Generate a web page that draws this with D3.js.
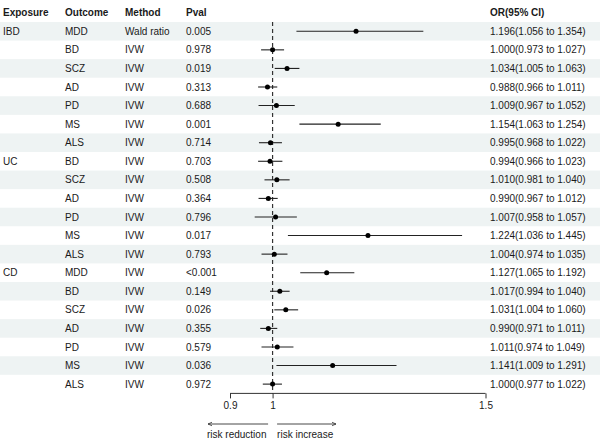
<!DOCTYPE html>
<html>
<head>
<meta charset="utf-8">
<script src="https://cdn.jsdelivr.net/npm/d3@7"></script>
<style>
  body { margin: 0; background: #fff; }
  text { font-family: "Liberation Sans", Arial, Helvetica, sans-serif; font-size: 10px; fill: #1a1a1a; }
</style>
</head>
<body>
<div id="forest"></div>
<script>
// 1. DATA
const exposures = ["IBD","IBD","IBD","IBD","IBD","IBD","IBD",
    "UC","UC","UC","UC","UC","UC",
    "CD","CD","CD","CD","CD","CD","CD"]
const outcomes = ["MDD","BD","SCZ","AD","PD","MS","ALS",
    "BD","SCZ","AD","PD","MS","ALS",
    "MDD","BD","SCZ","AD","PD","MS","ALS"]
const methods = ["Wald ratio","IVW","IVW","IVW","IVW","IVW","IVW",
    "IVW","IVW","IVW","IVW","IVW","IVW",
    "IVW","IVW","IVW","IVW","IVW","IVW","IVW"]
const pvals = ["0.005","0.978","0.019","0.313","0.688","0.001","0.714",
    "0.703","0.508","0.364","0.796","0.017","0.793",
    "<0.001","0.149","0.026","0.355","0.579","0.036","0.972"]
const ors = [1.196,1.000,1.034,0.988,1.009,1.154,0.995,
    0.994,1.010,0.990,1.007,1.224,1.004,
    1.127,1.017,1.031,0.990,1.011,1.141,1.000]
const lowers = [1.056,0.973,1.005,0.966,0.967,1.063,0.968,
    0.966,0.981,0.967,0.958,1.036,0.974,
    1.065,0.994,1.004,0.971,0.974,1.009,0.977]
const uppers = [1.354,1.027,1.063,1.011,1.052,1.254,1.022,
    1.023,1.040,1.012,1.057,1.445,1.035,
    1.192,1.040,1.060,1.011,1.049,1.291,1.022]
const xTicks = [0.9, 1, 1.5]

const dataset = outcomes.map((o, i) => ({
    exposure: exposures[i],
    first: i === 0 || exposures[i] !== exposures[i - 1],
    outcome: o,
    method: methods[i],
    pval: pvals[i],
    or: ors[i],
    lo: lowers[i],
    hi: uppers[i],
}))

// 2. DIMENSIONS
const width = 600
const height = 443
const rowTop = 22
const rowH = 18.57
const cols = { exposure: 3, outcome: 65, method: 125, pval: 186, ci: 490 }

const wrapper = d3.select("#forest")
    .append("svg")
    .attr("width", width)
    .attr("height", height)

// 3. SCALES
const yScale = d3.scaleBand()
    .domain(d3.range(dataset.length))
    .range([rowTop, rowTop + rowH * dataset.length])
const xScale = d3.scaleLinear()
    .domain([0.9, 1.5])
    .range([230, 485.5])

const fmt = d3.format(".3f")

// 4. BANDS (every other row)
wrapper.selectAll(".band")
    .data(dataset.filter((d, i) => i % 2 === 0))
    .join("rect")
    .attr("class", "band")
    .attr("x", 0)
    .attr("width", width)
    .attr("y", (d) => yScale(dataset.indexOf(d)))
    .attr("height", yScale.bandwidth())
    .attr("fill", "#eef3f3")

// 5. HEADER
const headers = [
    { text: "Exposure", x: cols.exposure },
    { text: "Outcome", x: cols.outcome },
    { text: "Method", x: cols.method },
    { text: "Pval", x: cols.pval },
    { text: "OR(95% CI)", x: cols.ci },
]
wrapper.selectAll(".header")
    .data(headers)
    .join("text")
    .attr("class", "header")
    .attr("x", d => d.x)
    .attr("y", 16)
    .style("font-weight", "bold")
    .text(d => d.text)

// 6. TABLE TEXT
const rows = wrapper.selectAll(".row")
    .data(dataset)
    .join("g")
    .attr("class", "row")
    .attr("transform", (d, i) => `translate(0, ${yScale(i) + yScale.bandwidth() / 2 + 3.6})`)

rows.append("text").attr("x", cols.exposure).text(d => d.first ? d.exposure : "")
rows.append("text").attr("x", cols.outcome).text(d => d.outcome)
rows.append("text").attr("x", cols.method).text(d => d.method)
rows.append("text").attr("x", cols.pval).text(d => d.pval)
rows.append("text").attr("x", cols.ci)
    .text(d => `${fmt(d.or)}(${fmt(d.lo)} to ${fmt(d.hi)})`)

// 7. REFERENCE LINE
const axisY = rowTop + rowH * dataset.length
wrapper.append("line")
    .attr("x1", xScale(1)).attr("x2", xScale(1))
    .attr("y1", rowTop).attr("y2", axisY)
    .attr("stroke", "#333")
    .attr("stroke-width", 1.2)
    .attr("stroke-dasharray", "4,3")

// 8. CI + POINTS
const cy = i => yScale(i) + yScale.bandwidth() / 2
wrapper.selectAll(".ci")
    .data(dataset)
    .join("line")
    .attr("class", "ci")
    .attr("x1", d => xScale(d.lo))
    .attr("x2", d => xScale(d.hi))
    .attr("y1", (d, i) => cy(i))
    .attr("y2", (d, i) => cy(i))
    .attr("stroke", "#222")
    .attr("stroke-width", 1.1)

wrapper.selectAll(".pt")
    .data(dataset)
    .join("circle")
    .attr("class", "pt")
    .attr("cx", d => xScale(d.or))
    .attr("cy", (d, i) => cy(i))
    .attr("r", 2.5)
    .attr("fill", "#000")

// 9. AXIS
const xAxis = wrapper.append("g")
    .attr("transform", `translate(0, ${axisY})`)
    .call(d3.axisBottom(xScale).tickValues(xTicks).tickFormat(d3.format("")).tickSize(5).tickPadding(4))
xAxis.select(".domain").attr("stroke", "#333").attr("d", `M${xScale(0.9)},0H${xScale(1.5)}`)
xAxis.selectAll(".tick line").attr("stroke", "#333")
xAxis.selectAll(".tick text")
    .style("font-family", "'Liberation Sans', Arial, sans-serif")
    .style("font-size", "10px")
    .attr("fill", "#1a1a1a")

// arrows
const defs = wrapper.append("defs")
defs.append("marker")
    .attr("id", "arrow")
    .attr("viewBox", "0 0 10 10")
    .attr("refX", 9).attr("refY", 5)
    .attr("markerUnits", "userSpaceOnUse")
    .attr("markerWidth", 5).attr("markerHeight", 6)
    .attr("orient", "auto-start-reverse")
    .append("path")
    .attr("d", "M1,1.5L9,5L1,8.5")
    .attr("fill", "none")
    .attr("stroke", "#333")
    .attr("stroke-width", 1.6)

const arrowY = 424
wrapper.append("line")
    .attr("x1", 208).attr("x2", xScale(1) - 4.5)
    .attr("y1", arrowY).attr("y2", arrowY)
    .attr("stroke", "#333").attr("stroke-width", 0.9)
    .attr("marker-start", "url(#arrow)")
wrapper.append("line")
    .attr("x1", xScale(1) + 4.5).attr("x2", 336)
    .attr("y1", arrowY).attr("y2", arrowY)
    .attr("stroke", "#333").attr("stroke-width", 0.9)
    .attr("marker-end", "url(#arrow)")

wrapper.append("text")
    .attr("x", 207).attr("y", 437.5)
    .text("risk reduction")
wrapper.append("text")
    .attr("x", xScale(1) + 4.5).attr("y", 437.5)
    .text("risk increase")
</script>
</body>
</html>
